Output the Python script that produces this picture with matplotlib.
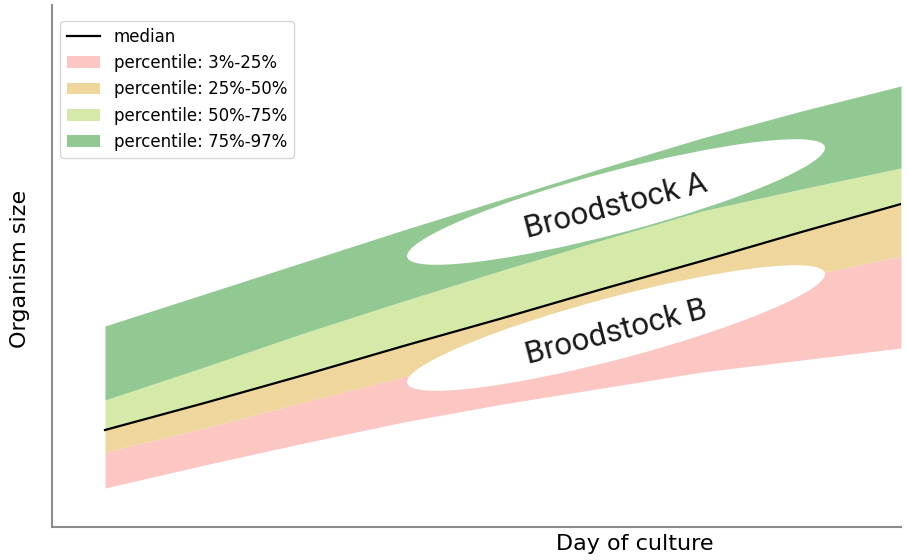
import numpy as np
import matplotlib
matplotlib.use("Agg")
import matplotlib.pyplot as plt
from matplotlib.patches import Ellipse
from matplotlib.transforms import ScaledTranslation

# Day of culture
days = [0, 12.5, 25, 37.5, 50, 62.5, 75, 87.5, 100]

# Organism size percentiles
p03 = [4.2, 6.5, 8.7, 10.8, 12.6, 14.2, 15.8, 17.0, 18.2]
p25 = [7.8, 10.2, 12.8, 15.3, 17.8, 20.3, 22.8, 25.3, 27.4]
p50 = [10.0, 12.7, 15.5, 18.4, 21.2, 24.1, 26.9, 29.8, 32.6]
p75 = [13.0, 16.3, 19.7, 22.9, 26.0, 29.0, 31.9, 34.1, 36.2]
p97 = [20.4, 23.6, 26.8, 30.0, 33.1, 36.2, 39.2, 41.9, 44.4]

band_labels = ['percentile: 3%-25%', 'percentile: 25%-50%',
               'percentile: 50%-75%', 'percentile: 75%-97%']
band_colors = ['#fcc6c2', '#eed69c', '#d5eaa9', '#92c992']

# broodstock labels (centre in data units)
groups = ['Broodstock A', 'Broodstock B']
group_x = [64.2, 64.2]
group_y = [32.8, 20.2]

fig = plt.figure(figsize=(9.07, 5.6), dpi=100)
ax = fig.add_axes([52 / 907, 33 / 560, (901 - 52) / 907, 522 / 560])

bounds = [p03, p25, p50, p75, p97]
ax.plot(days, p50, color='black', linewidth=1.6, label='median', zorder=3)
for i in range(4):
    ax.fill_between(days, bounds[i], bounds[i + 1], color=band_colors[i],
                    linewidth=0, label=band_labels[i], zorder=1)

# white ellipses with the group names
for name, gx, gy in zip(groups, group_x, group_y):
    tr = fig.dpi_scale_trans + ScaledTranslation(gx, gy, ax.transData)
    ax.add_patch(Ellipse((0, 0), 4.32, 0.62, angle=14.8, facecolor='white',
                         edgecolor='none', transform=tr, zorder=4))
    ax.text(gx, gy - 0.4, name, rotation=14.5, ha='center', va='center',
            fontsize=22.5, family=['Roboto', 'DejaVu Sans'], color='#1a1a1a',
            rotation_mode='anchor', zorder=5)

ax.set_xlim(-6.66, 100)
ax.set_ylim(0.3, 52.5)
ax.set_xticks([])
ax.set_yticks([])
for s in ['top', 'right']:
    ax.spines[s].set_visible(False)
for s in ['left', 'bottom']:
    ax.spines[s].set_color('#8c8c8c')
    ax.spines[s].set_linewidth(1.5)

ax.set_xlabel('Day of culture', fontsize=16)
ax.set_ylabel('Organism size', fontsize=16)
ax.xaxis.set_label_coords((635 - 52) / (901 - 52), -7 / 522)
ax.yaxis.set_label_coords(-22 / 849, (527 - 269) / 522)

handles, labels = ax.get_legend_handles_labels()
ax.legend(handles, labels, loc='upper left', fontsize=12,
          bbox_to_anchor=(0.0, 0.985))

fig.savefig('out.png', dpi=100)
